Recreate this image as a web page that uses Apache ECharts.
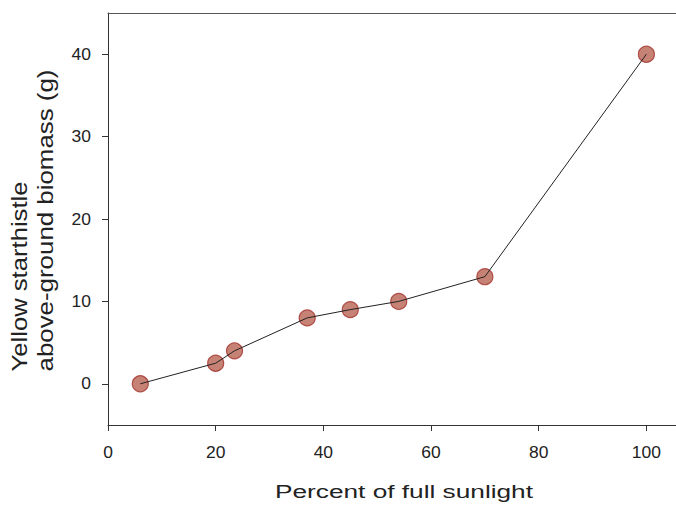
<!DOCTYPE html>
<html><head><meta charset="utf-8">
<script src="https://cdn.jsdelivr.net/npm/echarts@6/dist/echarts.min.js"></script>
<style>html,body{margin:0;padding:0;background:#fff}#c{width:676px;height:506px}</style>
</head><body><div id="c"></div>
<script>
const sunlight = [6, 20, 23.5, 37, 45, 54, 70, 100];
const biomass = [0, 2.5, 4, 8, 9, 10, 13, 40];
const xTicks = [0, 20, 40, 60, 80, 100];
const yTicks = [0, 10, 20, 30, 40];
const xTitle = 'Percent of full sunlight';
const yTitle1 = 'Yellow starthistle';
const yTitle2 = 'above-ground biomass (g)';

const pts = sunlight.map((x, i) => [x, biomass[i]]);
const font = 'Liberation Sans, Arial, sans-serif';
const chart = echarts.init(document.getElementById('c'), null, {renderer: 'svg'});
chart.setOption({
  animation: false,
  grid: {left: 108, top: 13, right: 0, bottom: 80},
  xAxis: [{
    type: 'value', min: 0, max: 105.5, position: 'bottom',
    name: xTitle, nameLocation: 'middle', nameGap: 58,
    nameTextStyle: {fontFamily: font, fontSize: 18, color: '#222', padding: [0, 0, 0, 24]},
    axisLine: {show: true, onZero: false, lineStyle: {color: '#333', width: 1}},
    axisTick: {show: true, length: 6, customValues: xTicks, lineStyle: {color: '#333'}},
    axisLabel: {customValues: xTicks, fontFamily: font, fontSize: 16, color: '#222', margin: 19},
    splitLine: {show: false}
  }, {
    type: 'value', min: 0, max: 105.5, position: 'top',
    axisLine: {show: true, onZero: false, lineStyle: {color: '#555', width: 1}},
    axisTick: {show: false}, axisLabel: {show: false}, splitLine: {show: false}
  }],
  yAxis: {
    type: 'value', min: -5, max: 45,
    name: '{a|' + yTitle1 + '}\n{a|' + yTitle2 + '}', nameLocation: 'middle', nameGap: 50,
    nameTextStyle: {
      color: '#222', padding: [0, 48, 0, 0],
      rich: {a: {fontFamily: font, fontSize: 22, color: '#222', lineHeight: 26, width: 257, align: 'left'}}
    },
    axisLine: {show: true, onZero: false, lineStyle: {color: '#333', width: 1}},
    axisTick: {show: true, length: 6, customValues: yTicks, lineStyle: {color: '#333'}},
    axisLabel: {customValues: yTicks, fontFamily: font, fontSize: 16, color: '#222', margin: 17},
    splitLine: {show: false}
  },
  series: [{
    type: 'scatter', data: pts, symbolSize: 16, z: 2,
    itemStyle: {color: '#b86452', borderColor: '#a3302a', borderWidth: 1.2}
  }, {
    type: 'line', data: pts, showSymbol: false, symbol: 'none', z: 3,
    lineStyle: {color: '#222', width: 1}
  }]
});

// widen text horizontally like the reference typeface
const targetLen = {};
targetLen[xTitle] = 258;
targetLen[yTitle1] = 190;
targetLen[yTitle2] = 302;
function stretchText() {
  document.querySelectorAll('#c svg text').forEach(t => {
    const s = t.textContent;
    if (!t.dataset.nat) t.dataset.nat = t.getComputedTextLength();
    const nat = parseFloat(t.dataset.nat);
    const len = targetLen[s] !== undefined ? targetLen[s] : nat * 1.09;
    t.setAttribute('textLength', len.toFixed(1));
    t.setAttribute('lengthAdjust', 'spacingAndGlyphs');
  });
}
stretchText();
chart.on('finished', stretchText);
setTimeout(stretchText, 0);
</script></body></html>
